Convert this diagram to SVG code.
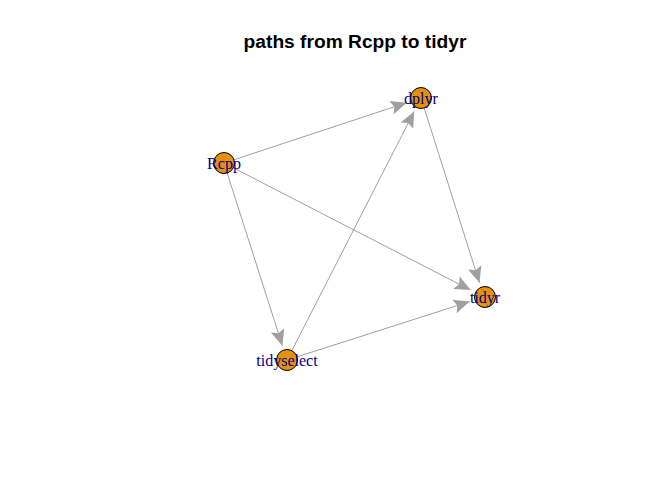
<svg xmlns="http://www.w3.org/2000/svg" width="672" height="480" viewBox="0 0 672 480">
<style>
.edge{stroke:#A0A0A0;stroke-width:1;fill:none;marker-end:url(#arr)}
.node circle{fill:#E4900A;stroke:#000;stroke-width:1}
.node text{font-family:"Liberation Serif",serif;font-size:16px;fill:#00008B;text-anchor:middle}
.title{font-family:"Liberation Sans",Arial,sans-serif;font-size:19.2px;font-weight:bold;text-anchor:middle;fill:#000}
</style>
<defs>
<marker id="arr" markerUnits="userSpaceOnUse" viewBox="-17 -8 18 16" refX="0" refY="0" markerWidth="18" markerHeight="16" orient="auto">
<path d="M0,0 L-16,-7 L-13,0 L-16,7 Z" fill="#A0A0A0"/>
</marker>
</defs>
<rect width="672" height="480" fill="#fff"/>
<text class="title" x="355" y="48">paths from Rcpp to tidyr</text>
<g id="edges">
<line class="edge" x1="233.5" y1="159.9" x2="406.7" y2="102.7"/>
<line class="edge" x1="232.9" y1="167.6" x2="470.7" y2="290.1"/>
<line class="edge" x1="227" y1="172.5" x2="282.4" y2="345.7"/>
<line class="edge" x1="291.6" y1="351.1" x2="414.2" y2="111.4"/>
<line class="edge" x1="296.5" y1="357" x2="469.7" y2="301.6"/>
<line class="edge" x1="424" y1="107.5" x2="479.5" y2="282.7"/>
</g>
<g id="Rcpp" class="node"><circle cx="224" cy="163" r="10.5"/><text x="224" y="168.5">Rcpp</text></g>
<g id="dplyr" class="node"><circle cx="421" cy="98" r="10.5"/><text x="421" y="103.5">dplyr</text></g>
<g id="tidyr" class="node"><circle cx="485" cy="297" r="10.5"/><text x="485" y="302.5">tidyr</text></g>
<g id="tidyselect" class="node"><circle cx="287" cy="360" r="10.5"/><text x="287" y="365.5">tidyselect</text></g>
</svg>
